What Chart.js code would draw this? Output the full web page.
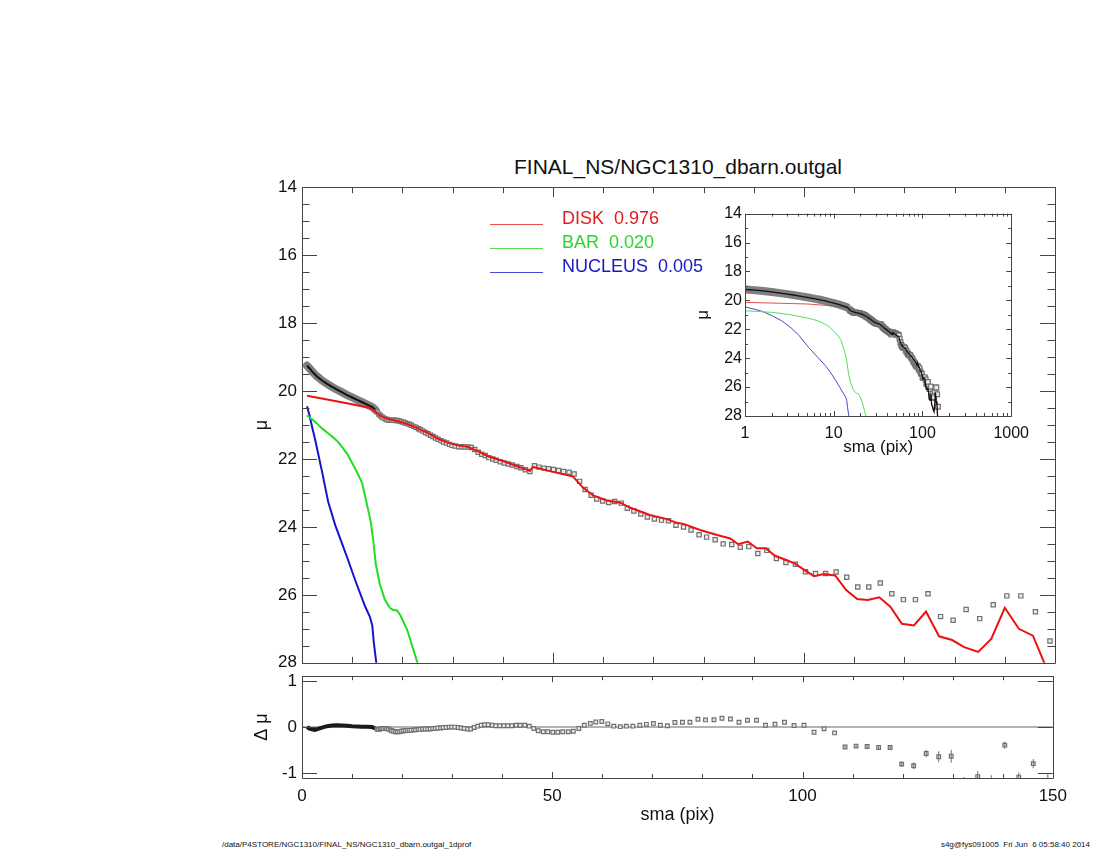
<!DOCTYPE html>
<html>
<head>
<meta charset="utf-8">
<script src="https://cdn.jsdelivr.net/npm/chart.js@4.4.1/dist/chart.umd.min.js"></script>
<style>
  html, body { margin: 0; padding: 0; background: #fff; }
  body { width: 1100px; height: 850px; position: relative; overflow: hidden; font-family: "Liberation Sans", Arial, sans-serif; }
  canvas { position: absolute; }
  .txt { position: absolute; color: #111; white-space: pre; }
</style>
</head>
<body>
<div class="txt" style="left:428px;width:500px;top:155px;text-align:center;font-size:21px;">FINAL_NS/NGC1310_dbarn.outgal</div>
<canvas id="mainChart"></canvas>
<canvas id="residChart"></canvas>
<canvas id="insetChart"></canvas>
<div class="txt" style="left:222px;top:840px;font-size:8px;">/data/P4STORE/NGC1310/FINAL_NS/NGC1310_dbarn.outgal_1dprof</div>
<div class="txt" style="right:10px;top:840px;font-size:8px;">s4g@fys091005  Fri Jun  6 05:58:40 2014</div>
<script>
// components shown in the legend
const componentNames = ['DISK', 'BAR', 'NUCLEUS'];
const componentFractions = ['0.976', '0.020', '0.005'];

// tick labels
const smaTicks = [0, 50, 100, 150];
const muTicks = [14, 16, 18, 20, 22, 24, 26, 28];
const residTicks = [-1, 0, 1];
const logTicks = [1, 10, 100, 1000];

// observed profile, inner part (squares overlap into a band)
const bandR = [1.0, 1.3, 1.6, 2.0, 2.5, 3.0, 3.5, 4.0, 5.0, 6.0, 7.0, 8.0, 9.0, 10.0, 11.0, 12.0, 13.0, 14.0, 14.6];
const bandMu = [19.25, 19.3, 19.35, 19.42, 19.5, 19.57, 19.63, 19.69, 19.79, 19.88, 19.96, 20.04, 20.12, 20.19, 20.26, 20.33, 20.4, 20.47, 20.55];
const bandResid = [0.0, -0.02, -0.04, -0.05, -0.06, -0.05, -0.03, -0.01, 0.02, 0.035, 0.04, 0.035, 0.03, 0.02, 0.015, 0.01, 0.005, 0.0, -0.03];

// observed profile, outer part (individual squares)
const squareR = [15.0, 15.3, 15.6, 15.9, 16.2, 16.6, 16.9, 17.2, 17.6, 17.9,
  18.3, 18.7, 19.0, 19.4, 19.8, 20.2, 20.6, 21.0, 21.4, 21.8,
  22.3, 22.7, 23.2, 23.6, 24.1, 24.6, 25.1, 25.6, 26.1, 26.6,
  27.1, 27.7, 28.2, 28.8, 29.4, 29.9, 30.5, 31.2, 31.8, 32.4,
  33.1, 33.7, 34.4, 35.1, 35.8, 36.5, 37.2, 38.0, 38.7, 39.5,
  40.3, 41.1, 41.9, 42.8, 43.6, 44.5, 45.4, 46.3, 47.2, 48.2,
  49.1, 50.1, 51.1, 52.1, 53.2, 54.2, 55.3, 56.4, 57.6, 58.7,
  59.9, 61.1, 62.3, 63.6, 64.8, 66.1, 67.5, 68.8, 70.2, 71.6,
  73.0, 74.5, 76.0, 77.5, 79.1, 80.6, 82.3, 83.9, 85.6, 87.3,
  89.0, 90.8, 92.6, 94.5, 96.4, 98.3, 100.3, 102.3, 104.3, 106.4,
  108.5, 110.7, 112.9, 115.2, 117.5, 119.8, 122.2, 124.7, 127.2, 129.7,
  132.3, 135.0, 137.7, 140.4, 143.2, 146.1, 149.0];
const squareMu = [20.62, 20.68, 20.72, 20.76, 20.79, 20.82, 20.84, 20.85, 20.86, 20.86,
  20.86, 20.87, 20.87, 20.88, 20.90, 20.92, 20.94, 20.96, 20.98, 21.01,
  21.04, 21.07, 21.11, 21.14, 21.18, 21.22, 21.26, 21.30, 21.34, 21.38,
  21.42, 21.46, 21.50, 21.53, 21.57, 21.60, 21.62, 21.64, 21.64, 21.65,
  21.65, 21.66, 21.72, 21.80, 21.86, 21.90, 21.96, 22.00, 22.04, 22.08,
  22.12, 22.15, 22.18, 22.22, 22.26, 22.32, 22.37, 22.20, 22.24, 22.27,
  22.29, 22.31, 22.34, 22.37, 22.39, 22.44, 22.66, 22.90, 23.07, 23.18,
  23.24, 23.28, 23.25, 23.30, 23.45, 23.53, 23.62, 23.71, 23.77, 23.80,
  23.82, 23.95, 24.00, 24.09, 24.23, 24.30, 24.38, 24.50, 24.52, 24.60,
  24.58, 24.78, 24.69, 24.93, 25.05, 25.10, 25.32, 25.37, 25.37, 25.33,
  25.48, 25.77, 25.77, 25.65, 25.97, 26.14, 26.14, 25.97, 26.64, 26.75,
  26.43, 26.70, 26.29, 26.03, 26.03, 26.50, 27.36];
const squareResid = [-0.05, -0.05, -0.04, -0.03, -0.03, -0.03, -0.03, -0.04, -0.06, -0.08,
  -0.09, -0.10, -0.10, -0.10, -0.09, -0.08, -0.08, -0.07, -0.07, -0.07,
  -0.06, -0.06, -0.05, -0.05, -0.04, -0.04, -0.04, -0.04, -0.03, -0.03,
  -0.02, -0.02, -0.01, -0.01, 0.00, 0.00, 0.00, -0.01, -0.02, -0.03,
  -0.04, -0.04, -0.01, 0.02, 0.04, 0.05, 0.05, 0.04, 0.03, 0.03,
  0.03, 0.03, 0.03, 0.04, 0.04, 0.04, 0.02, -0.03, -0.08, -0.10,
  -0.10, -0.11, -0.11, -0.10, -0.10, -0.09, -0.03, 0.04, 0.08, 0.11,
  0.12, 0.07, 0.02, 0.01, 0.02, 0.02, 0.04, 0.06, 0.08, 0.04,
  0.03, 0.10, 0.105, 0.105, 0.17, 0.155, 0.16, 0.19, 0.175, 0.105,
  0.147, 0.147, 0.04, 0.063, 0.105, 0.035, 0.04, -0.11, -0.035, -0.126,
  -0.43, -0.41, -0.42, -0.44, -0.44, -0.80, -0.835, -0.57, -0.64, -0.63,
  -1.20, -1.07, -1.15, -0.39, -1.08, -0.79, -1.20];
// error bars of the last residual points (from sma 108.5 on)
const residErrTail = [0.03, 0.04, 0.04, 0.04, 0.05, 0.06, 0.07, 0.08, 0.12, 0.14, 0.12, 0.12, 0.11, 0.08, 0.1, 0.1, 0.2];

// model components
const diskR = [1, 5, 10, 13.5, 14.5, 15.5, 17, 19, 21, 23, 25, 27, 29, 31, 33, 35, 37, 40, 43, 45.4,
  46, 50, 54, 56, 58, 60.7, 63.3, 65.3, 69.3, 72.7, 74.7, 76, 79.3, 82.7, 85.3, 86.9, 88.8, 90.6, 92.4, 94.2,
  96.2, 98.2, 100.2, 102, 104, 106.2, 108.4, 110.6, 112.7, 115, 117.2, 119.5, 121.9, 124.3, 126.9, 129.5, 131.9, 134.7, 137.3, 140,
  142.8, 145.6, 149];
const diskMu = [20.14, 20.25, 20.39, 20.5, 20.58, 20.72, 20.82, 20.88, 20.97, 21.1, 21.23, 21.4, 21.52, 21.6, 21.64, 21.77, 21.92, 22.06, 22.22, 22.35,
  22.23, 22.38, 22.52, 22.85, 23.07, 23.22, 23.28, 23.43, 23.65, 23.77, 23.88, 23.91, 24.09, 24.24, 24.34, 24.51, 24.43, 24.63, 24.63, 24.85,
  24.96, 25.08, 25.28, 25.45, 25.39, 25.43, 25.86, 26.12, 26.15, 26.07, 26.35, 26.85, 26.9, 26.49, 27.22, 27.33, 27.54, 27.68, 27.3, 26.38,
  27.0, 27.2, 28.4];
const barR = [1, 2, 3, 4, 5, 6, 7, 8, 9, 10, 11, 12, 13, 13.7, 14.2, 14.7, 15.5, 16.5, 17.5, 18.2, 18.9, 19.6, 21, 23, 23.5];
const barMu = [20.72, 20.83, 20.96, 21.1, 21.22, 21.34, 21.47, 21.65, 21.85, 22.12, 22.4, 22.72, 23.38, 23.85, 24.4, 25.1, 25.68, 26.14, 26.38, 26.45, 26.45, 26.6, 27.05, 28.0, 28.3];
const nucR = [1, 1.5, 2, 2.6, 3.3, 4, 5.2, 6.6, 8, 9, 10.6, 12.6, 13.5, 14, 14.3, 14.8, 15.2];
const nucMu = [20.45, 20.72, 21.05, 21.42, 21.9, 22.38, 23.25, 23.94, 24.5, 24.9, 25.57, 26.35, 26.64, 26.9, 27.4, 28.0, 28.4];

const xy = (xs, ys) => xs.map((x, i) => ({ x, y: ys[i] }));
const bandEnd = bandR[bandR.length - 1];
const totalPts = xy(bandR, bandMu).concat(xy(diskR, diskMu).filter(p => p.x > bandEnd));
const errOffset = squareR.length - residErrTail.length;
const squareErr = squareR.map((r, i) => (i >= errOffset ? residErrTail[i - errOffset] : 0));

Chart.defaults.font.family = '"Liberation Sans", Arial, sans-serif';
Chart.defaults.color = '#111';
Chart.defaults.animation = false;
Chart.defaults.plugins.legend.display = false;
Chart.defaults.plugins.tooltip.enabled = false;

function minorValues(scale, step) {
  const out = [];
  if (scale.type === 'logarithmic') {
    for (let d = 1; d < scale.max; d *= 10) for (let k = 2; k < 10; k++) out.push(d * k);
  } else {
    for (let v = scale.min; v <= scale.max + 1e-9; v += step) out.push(v);
  }
  return out;
}

// IDL style box with inward ticks on all four sides
const idlFrame = {
  id: 'idlFrame',
  afterDatasetsDraw(chart, args, o) {
    const { ctx, chartArea: a } = chart;
    const xs = chart.scales.x, ys = chart.scales.y;
    ctx.save();
    ctx.strokeStyle = o.color;
    ctx.lineWidth = 1;
    ctx.beginPath();
    ctx.rect(Math.round(a.left) + 0.5, Math.round(a.top) + 0.5, Math.round(a.width), Math.round(a.height));
    const xTick = (v, len) => {
      const p = Math.round(xs.getPixelForValue(v)) + 0.5;
      ctx.moveTo(p, a.bottom); ctx.lineTo(p, a.bottom - len);
      ctx.moveTo(p, a.top); ctx.lineTo(p, a.top + len);
    };
    const yTick = (v, len) => {
      const p = Math.round(ys.getPixelForValue(v)) + 0.5;
      ctx.moveTo(a.left, p); ctx.lineTo(a.left + len, p);
      ctx.moveTo(a.right, p); ctx.lineTo(a.right - len, p);
    };
    minorValues(xs, o.xStep).forEach(v => xTick(v, o.xLen[1]));
    xs.ticks.forEach(t => xTick(t.value, o.xLen[0]));
    if (o.yStep) minorValues(ys, o.yStep).forEach(v => yTick(v, o.yLen[1]));
    ys.ticks.forEach(t => yTick(t.value, o.yLen[0]));
    ctx.stroke();
    ctx.restore();
  }
};

const errorBars = {
  id: 'errorBars',
  afterDatasetsDraw(chart) {
    const { ctx, chartArea: a, scales: { x, y } } = chart;
    chart.data.datasets.forEach(ds => {
      if (!ds.errors) return;
      ctx.save();
      ctx.beginPath(); ctx.rect(a.left, a.top, a.width, a.height); ctx.clip();
      ctx.strokeStyle = ds.borderColor;
      ctx.lineWidth = 1;
      ds.data.forEach((pt, i) => {
        const e = ds.errors[i];
        if (!e) return;
        const px = x.getPixelForValue(pt.x);
        ctx.beginPath();
        ctx.moveTo(px, y.getPixelForValue(pt.y - e));
        ctx.lineTo(px, y.getPixelForValue(pt.y + e));
        ctx.stroke();
      });
      ctx.restore();
    });
  }
};

const profileLegend = {
  id: 'profileLegend',
  afterDraw(chart, args, o) {
    if (!o.items) return;
    const { ctx, chartArea: a } = chart;
    ctx.save();
    ctx.font = o.font;
    ctx.textBaseline = 'middle';
    o.items.forEach((it, i) => {
      const y = a.top + o.top + i * o.row;
      ctx.strokeStyle = it.line;
      ctx.lineWidth = 1;
      ctx.beginPath();
      ctx.moveTo(a.left + o.lineX0, Math.round(y + 5) + 0.5);
      ctx.lineTo(a.left + o.lineX1, Math.round(y + 5) + 0.5);
      ctx.stroke();
      ctx.fillStyle = it.color;
      ctx.fillText(it.text, a.left + o.textX, y);
    });
    ctx.restore();
  }
};

function place(canvas, area, axisW, axisH, pad) {
  const w = axisW + (area.r - area.l) + pad.right;
  const h = pad.top + (area.b - area.t) + axisH + pad.bottom;
  canvas.width = w; canvas.height = h;
  canvas.style.width = w + 'px'; canvas.style.height = h + 'px';
  canvas.style.left = (area.l - axisW) + 'px';
  canvas.style.top = (area.t - pad.top) + 'px';
}

function setTicks(list) {
  return s => { s.ticks = list.map(v => ({ value: v })); };
}

const lineColors = ['#ee1111', '#22dd22', '#1515cc'];
const textColors = ['#e41a1c', '#2ed42e', '#1818c8'];
const insetColors = ['#e85050', '#55dd55', '#4a4ad0'];
const squareStyle = { pointStyle: 'rect', borderColor: '#707070', backgroundColor: '#ececec', borderWidth: 1.2 };

const noGrid = { display: false, drawTicks: false };
const noBorder = { display: false };

// main profile
const mainPad = { left: 0, top: 12, right: 20, bottom: 12 };
place(document.getElementById('mainChart'), { l: 302, t: 184, r: 1055, b: 666 }, 80, 0, mainPad);
new Chart(document.getElementById('mainChart'), {
  type: 'scatter',
  data: {
    datasets: [
      { label: componentNames[0] + '  ' + componentFractions[0], data: xy(diskR, diskMu), showLine: true, borderColor: lineColors[0], borderWidth: 2, pointRadius: 0, order: 1 },
      { label: componentNames[1] + '  ' + componentFractions[1], data: xy(barR, barMu), showLine: true, borderColor: lineColors[1], borderWidth: 2, pointRadius: 0, order: 2 },
      { label: componentNames[2] + '  ' + componentFractions[2], data: xy(nucR, nucMu), showLine: true, borderColor: lineColors[2], borderWidth: 2, pointRadius: 0, order: 3 },
      Object.assign({ data: xy(squareR, squareMu), pointRadius: 3, order: 4 }, squareStyle),
      { data: xy(bandR, bandMu), showLine: true, borderColor: '#111', borderWidth: 2, pointRadius: 0, order: 5 },
      { data: xy(bandR, bandMu), showLine: true, borderColor: 'rgba(95,95,95,0.8)', borderWidth: 8, pointRadius: 0, borderCapStyle: 'round', order: 6 }
    ]
  },
  options: {
    responsive: false,
    layout: { padding: mainPad },
    scales: {
      x: { type: 'linear', min: 0, max: 150, display: false, afterBuildTicks: setTicks(smaTicks) },
      y: {
        type: 'linear', reverse: true, min: 14, max: 28,
        afterBuildTicks: setTicks(muTicks),
        afterFit: s => { s.width = 80; },
        grid: noGrid, border: noBorder,
        ticks: { padding: 5, font: { size: 17 }, callback: v => String(v) },
        title: { display: true, text: 'μ', font: { size: 18 }, padding: { top: 29 } }
      }
    },
    plugins: {
      idlFrame: { color: '#444', xStep: 10, xLen: [10, 6], yStep: 0.5, yLen: [15, 7.5] },
      profileLegend: {
        font: '18px "Liberation Sans", Arial, sans-serif', top: 32, row: 24, lineX0: 188, lineX1: 241, textX: 260,
        items: componentNames.map((n, i) => ({ text: n + '  ' + componentFractions[i], color: textColors[i], line: insetColors[i] }))
      }
    }
  },
  plugins: [idlFrame, profileLegend]
});

// residuals
const residPad = { left: 0, top: 12, right: 20, bottom: 4 };
place(document.getElementById('residChart'), { l: 302, t: 673, r: 1055, b: 778 }, 80, 50, residPad);
new Chart(document.getElementById('residChart'), {
  type: 'scatter',
  data: {
    datasets: [
      Object.assign({ data: xy(squareR, squareResid), errors: squareErr, pointRadius: 2.6, clip: 0, order: 1 }, squareStyle),
      { data: xy(bandR, bandResid), showLine: true, borderColor: '#1a1a1a', borderWidth: 4, pointRadius: 0, order: 2 },
      { data: [{ x: 0, y: 0 }, { x: 150, y: 0 }], showLine: true, borderColor: '#9a9a9a', borderWidth: 1.5, pointRadius: 0, order: 3 }
    ]
  },
  options: {
    responsive: false,
    layout: { padding: residPad },
    scales: {
      x: {
        type: 'linear', min: 0, max: 150,
        afterBuildTicks: setTicks(smaTicks),
        afterFit: s => { s.height = 50; },
        grid: noGrid, border: noBorder,
        ticks: { padding: 8, maxRotation: 0, font: { size: 17 }, callback: v => String(v) },
        title: { display: true, text: 'sma (pix)', font: { size: 18 }, padding: { bottom: 2 } }
      },
      y: {
        type: 'linear', min: -1.1, max: 1.1,
        afterBuildTicks: setTicks(residTicks),
        afterFit: s => { s.width = 80; },
        grid: noGrid, border: noBorder,
        ticks: { padding: 5, font: { size: 17 }, callback: v => String(v) },
        title: { display: true, text: 'Δ μ', font: { size: 18 }, padding: { top: 29 } }
      }
    },
    plugins: { idlFrame: { color: '#444', xStep: 10, xLen: [6, 4], yStep: 0, yLen: [15, 7] } }
  },
  plugins: [idlFrame, errorBars]
});

// log inset
const insetPad = { left: 0, top: 12, right: 25, bottom: 4 };
place(document.getElementById('insetChart'), { l: 745, t: 213, r: 1012, b: 416 }, 55, 45, insetPad);
new Chart(document.getElementById('insetChart'), {
  type: 'scatter',
  data: {
    datasets: [
      { data: totalPts, showLine: true, borderColor: '#111', borderWidth: 1.3, pointRadius: 0, order: 1 },
      Object.assign({ data: xy(squareR, squareMu), pointRadius: 3.4, order: 2 }, squareStyle),
      { data: xy(bandR, bandMu), showLine: true, borderColor: 'rgba(95,95,95,0.8)', borderWidth: 8, pointRadius: 0, order: 3 },
      { data: xy(diskR, diskMu), showLine: true, borderColor: insetColors[0], borderWidth: 1, pointRadius: 0, order: 4 },
      { data: xy(barR, barMu), showLine: true, borderColor: insetColors[1], borderWidth: 1, pointRadius: 0, order: 5 },
      { data: xy(nucR, nucMu), showLine: true, borderColor: insetColors[2], borderWidth: 1, pointRadius: 0, order: 6 }
    ]
  },
  options: {
    responsive: false,
    layout: { padding: insetPad },
    scales: {
      x: {
        type: 'logarithmic', min: 1, max: 1000,
        afterBuildTicks: setTicks(logTicks),
        afterFit: s => { s.height = 45; },
        grid: noGrid, border: noBorder,
        ticks: { padding: 8, maxRotation: 0, font: { size: 16 }, callback: v => String(v) },
        title: { display: true, text: 'sma (pix)', font: { size: 17 }, padding: { bottom: 3 } }
      },
      y: {
        type: 'linear', reverse: true, min: 14, max: 28,
        afterBuildTicks: setTicks(muTicks),
        afterFit: s => { s.width = 55; },
        grid: noGrid, border: noBorder,
        ticks: { padding: 3, font: { size: 16 }, callback: v => String(v) },
        title: { display: true, text: 'μ', font: { size: 17 }, padding: { top: 3 } }
      }
    },
    plugins: { idlFrame: { color: '#444', xStep: 0, xLen: [5, 3], yStep: 1, yLen: [5, 3] } }
  },
  plugins: [idlFrame]
});
</script>
</body>
</html>
